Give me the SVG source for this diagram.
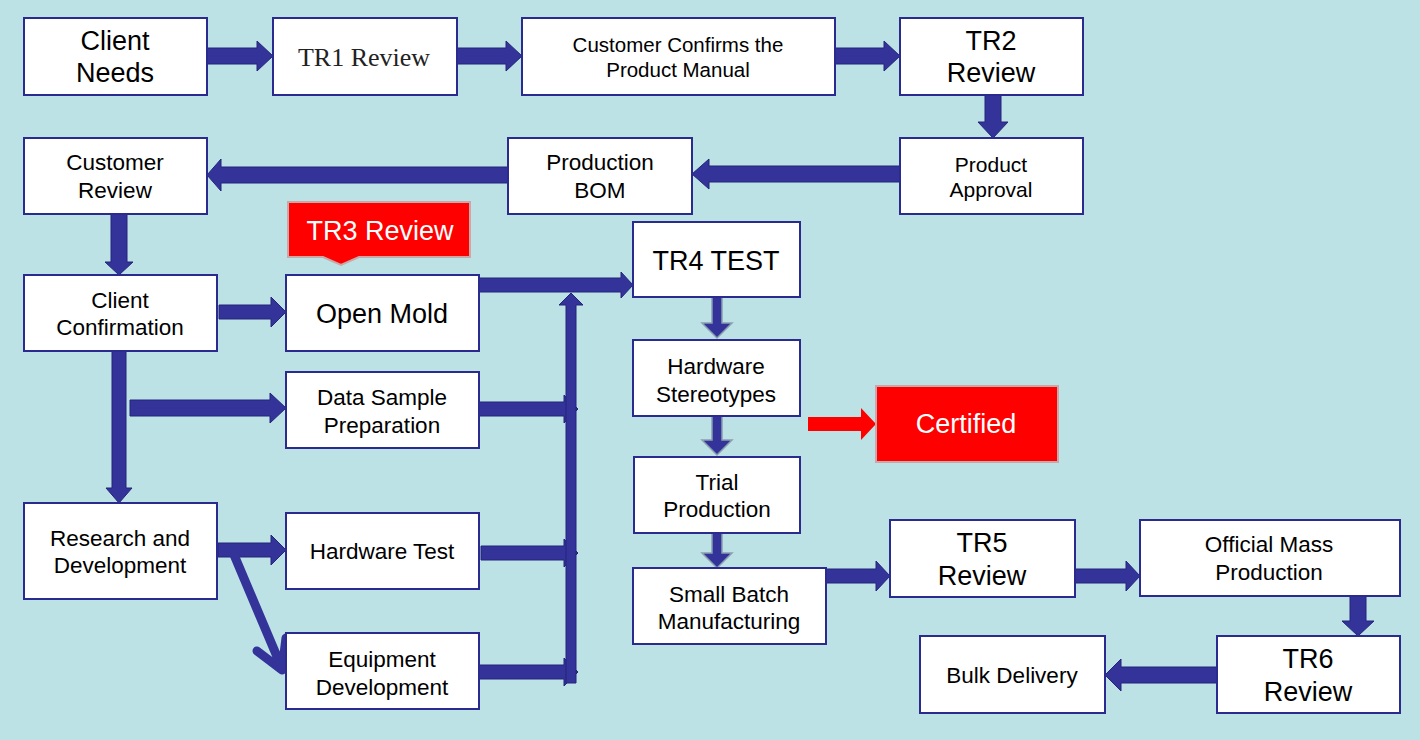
<svg xmlns="http://www.w3.org/2000/svg" width="1420" height="740" viewBox="0 0 1420 740">
<style>
.box{fill:#ffffff;stroke:#2b2b8f;stroke-width:2}
.red{fill:#ff0000;stroke:#c8a8a8;stroke-width:2}
.t{font-family:"Liberation Sans",Arial,sans-serif;fill:#000;text-anchor:middle;dominant-baseline:central}
.s{font-size:22.5px}
.l{font-size:27px}
.w{fill:#ffffff}
.serif{font-family:"Liberation Serif","Times New Roman",serif;font-size:26px;fill:#222}
.arr{fill:#333399;stroke:#25257a;stroke-width:1}
.arrg{fill:#333399;stroke:#8a9fb0;stroke-width:1.5}
.arrr{fill:#ff0000;stroke:none}
</style>
<rect x="0" y="0" width="1420" height="740" fill="#bde2e6"/>
<g id="connectors">
<polygon class="arr" points="207,48 257,48 257,41 273,56 257,71 257,64 207,64"/>
<polygon class="arr" points="457,48 506,48 506,41 522,56 506,71 506,64 457,64"/>
<polygon class="arr" points="835,48 884,48 884,41 900,56 884,71 884,64 835,64"/>
<polygon class="arr" points="985,95 1001,95 1001,122 1008,122 993,138 978,122 985,122"/>
<polygon class="arr" points="900,166 709,166 709,159 692,174 709,189 709,182 900,182"/>
<polygon class="arr" points="508,167 221,167 221,159 207,175 221,191 221,183 508,183"/>
<polygon class="arr" points="111,214 127,214 127,262 133,262 119,275 105,262 111,262"/>
<polygon class="arr" points="219,305 271,305 271,297 286,312 271,327 271,319 219,319"/>
<polygon class="arr" points="479,278 621,278 621,272 633,285 621,298 621,292 479,292"/>
<polygon class="arr" points="479,402 564,402 564,395 578,409 564,423 564,416 479,416"/>
<polygon class="arr" points="481,546 564,546 564,539 578,553 564,567 564,560 481,560"/>
<polygon class="arr" points="479,665 564,665 564,658 578,672 564,686 564,679 479,679"/>
<polygon class="arr" points="566,683 566,305 559,305 571,293 583,305 576,305 576,683"/>
<polygon class="arr" points="112,351 126,351 126,488 132,488 119,503 106,488 112,488"/>
<polygon class="arr" points="130,400 270,400 270,393 286,408 270,423 270,416 130,416"/>
<polygon class="arr" points="218,543 271,543 271,535 286,550 271,565 271,557 218,557"/>
<path d="M232,550 L281,666 M257,651 L282,670 L286,638" fill="none" stroke="#333399" stroke-width="9" stroke-linecap="round" stroke-linejoin="round"/>
<polygon class="arrg" points="712,297 722,297 722,323 732,323 717,338 702,323 712,323"/>
<polygon class="arrg" points="712,416 722,416 722,440 732,440 717,455 702,440 712,440"/>
<polygon class="arrg" points="712,533 722,533 722,553 732,553 717,568 702,553 712,553"/>
<polygon class="arrr" points="808,417 861,417 861,408 876,424 861,440 861,431 808,431"/>
<polygon class="arr" points="826,569 876,569 876,561 890,576 876,591 876,583 826,583"/>
<polygon class="arr" points="1075,569 1126,569 1126,561 1140,576 1126,591 1126,583 1075,583"/>
<polygon class="arr" points="1350,596 1366,596 1366,621 1374,621 1358,636 1342,621 1350,621"/>
<polygon class="arr" points="1217,667 1121,667 1121,659 1105,675 1121,691 1121,683 1217,683"/>
</g>
<g id="n-client-needs"><rect class="box" x="24" y="18" width="183" height="77"/><text class="t l" x="115" y="41">Client</text><text class="t l" x="115" y="73">Needs</text></g>
<g id="n-tr1"><rect class="box" x="273" y="18" width="184" height="77"/><text class="serif" text-anchor="middle" dominant-baseline="central" x="364" y="57">TR1 Review</text></g>
<g id="n-ccpm"><rect class="box" x="522" y="18" width="313" height="77"/><text class="t" font-size="20.5px" x="678" y="44">Customer Confirms the</text><text class="t" font-size="20.5px" x="678" y="69">Product Manual</text></g>
<g id="n-tr2"><rect class="box" x="900" y="18" width="183" height="77"/><text class="t l" x="991" y="41">TR2</text><text class="t l" x="991" y="73">Review</text></g>
<g id="n-pa"><rect class="box" x="900" y="138" width="183" height="76"/><text class="t" font-size="21px" x="991" y="164">Product</text><text class="t" font-size="21px" x="991" y="189">Approval</text></g>
<g id="n-bom"><rect class="box" x="508" y="138" width="184" height="76"/><text class="t s" x="600" y="162">Production</text><text class="t s" x="600" y="190">BOM</text></g>
<g id="n-cr"><rect class="box" x="24" y="138" width="183" height="76"/><text class="t s" x="115" y="162">Customer</text><text class="t s" x="115" y="190">Review</text></g>
<g id="n-tr3"><path class="red" d="M288,202 H470 V257 H359 L341,265 L323,257 H288 Z"/><text class="t l w" x="380" y="231">TR3 Review</text></g>
<g id="n-cc"><rect class="box" x="24" y="275" width="193" height="76"/><text class="t s" x="120" y="300">Client</text><text class="t s" x="120" y="327">Confirmation</text></g>
<g id="n-om"><rect class="box" x="286" y="275" width="193" height="76"/><text class="t l" x="382" y="314">Open Mold</text></g>
<g id="n-ds"><rect class="box" x="286" y="372" width="193" height="76"/><text class="t s" x="382" y="397">Data Sample</text><text class="t s" x="382" y="425">Preparation</text></g>
<g id="n-rd"><rect class="box" x="24" y="503" width="193" height="96"/><text class="t s" x="120" y="538">Research and</text><text class="t s" x="120" y="565">Development</text></g>
<g id="n-ht"><rect class="box" x="286" y="513" width="193" height="76"/><text class="t s" x="382" y="551">Hardware Test</text></g>
<g id="n-ed"><rect class="box" x="286" y="633" width="193" height="76"/><text class="t s" x="382" y="659">Equipment</text><text class="t s" x="382" y="687">Development</text></g>
<g id="n-tr4"><rect class="box" x="633" y="222" width="167" height="75"/><text class="t l" x="716" y="261">TR4 TEST</text></g>
<g id="n-hs"><rect class="box" x="633" y="340" width="167" height="76"/><text class="t s" x="716" y="366">Hardware</text><text class="t s" x="716" y="394">Stereotypes</text></g>
<g id="n-cert"><rect class="red" x="876" y="386" width="182" height="76"/><text class="t l w" x="966" y="424">Certified</text></g>
<g id="n-tp"><rect class="box" x="634" y="457" width="166" height="76"/><text class="t s" x="717" y="482">Trial</text><text class="t s" x="717" y="509">Production</text></g>
<g id="n-sb"><rect class="box" x="633" y="568" width="193" height="76"/><text class="t s" x="729" y="594">Small Batch</text><text class="t s" x="729" y="621">Manufacturing</text></g>
<g id="n-tr5"><rect class="box" x="890" y="520" width="185" height="77"/><text class="t l" x="982" y="543">TR5</text><text class="t l" x="982" y="576">Review</text></g>
<g id="n-omp"><rect class="box" x="1140" y="520" width="260" height="76"/><text class="t s" x="1269" y="544">Official Mass</text><text class="t s" x="1269" y="572">Production</text></g>
<g id="n-tr6"><rect class="box" x="1217" y="636" width="183" height="77"/><text class="t l" x="1308" y="659">TR6</text><text class="t l" x="1308" y="692">Review</text></g>
<g id="n-bd"><rect class="box" x="920" y="636" width="185" height="77"/><text class="t s" x="1012" y="675">Bulk Delivery</text></g>
</svg>
